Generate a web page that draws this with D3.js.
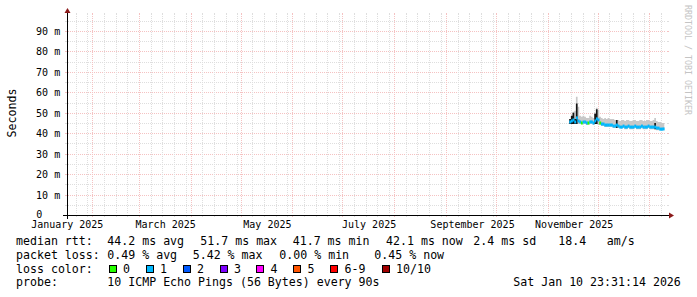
<!DOCTYPE html>
<html>
<head>
<meta charset="utf-8">
<script src="https://cdn.jsdelivr.net/npm/d3@7"></script>
<style>
  html, body { margin: 0; padding: 0; background: #ffffff; }
  svg { display: block; }
  text { font-family: "DejaVu Sans Mono", monospace; fill: #000; }
</style>
</head>
<body>
<div id="chart"></div>
<script>
// ---- data ----
const dates = [
  "2025-11-14", "2025-11-15", "2025-11-16", "2025-11-17", "2025-11-18", "2025-11-19",
  "2025-11-20", "2025-11-21", "2025-11-22", "2025-11-23", "2025-11-24", "2025-11-25",
  "2025-11-26", "2025-11-27", "2025-11-28", "2025-11-29", "2025-11-30", "2025-12-01",
  "2025-12-02", "2025-12-03", "2025-12-04", "2025-12-05", "2025-12-06", "2025-12-07",
  "2025-12-08", "2025-12-09", "2025-12-10", "2025-12-11", "2025-12-12", "2025-12-13",
  "2025-12-14", "2025-12-15", "2025-12-16", "2025-12-17", "2025-12-18", "2025-12-19",
  "2025-12-20", "2025-12-21", "2025-12-22", "2025-12-23", "2025-12-24", "2025-12-25",
  "2025-12-26", "2025-12-27", "2025-12-28", "2025-12-29", "2025-12-30", "2025-12-31",
  "2026-01-01", "2026-01-02", "2026-01-03", "2026-01-04", "2026-01-05", "2026-01-06",
  "2026-01-07", "2026-01-08", "2026-01-09"
];
// median rtt (ms)
const median = [
  45.5, 46.0, 46.5, 45.5, 47.5, 46.0, 45.5, 45.0, 45.5, 45.5, 45.0, 45.0,
  45.5, 45.5, 45.0, 46.0, 47.0, 46.5, 45.0, 44.5, 44.5, 44.0, 44.0, 44.0,
  44.0, 44.0, 43.5, 43.5, 44.0, 43.5, 43.0, 43.0, 43.5, 43.0, 43.0, 43.5,
  43.0, 43.0, 43.0, 43.5, 43.0, 43.0, 43.0, 43.5, 43.0, 43.0, 43.0, 43.5,
  43.0, 43.0, 43.0, 43.0, 42.5, 42.5, 42.0, 42.0, 42.1
];
// light smoke: lowest / highest ping (ms)
const smokeLo = [
  44.5, 44.5, 44.5, 44.5, 44.5, 44.5, 44.5, 44.5, 44.5, 44.5, 44.0, 44.0,
  44.5, 44.5, 44.0, 44.5, 44.5, 44.0, 44.0, 43.5, 43.5, 43.0, 43.0, 43.0,
  43.0, 43.0, 42.5, 42.5, 42.5, 42.5, 42.5, 42.5, 42.5, 42.0, 42.0, 42.5,
  42.0, 42.0, 42.0, 42.5, 42.0, 42.0, 42.0, 42.5, 42.0, 42.0, 42.0, 42.5,
  42.0, 42.0, 42.0, 42.0, 41.5, 41.5, 41.5, 41.5, 41.5
];
const smokeHi = [
  47.0, 48.5, 50.5, 51.0, 57.8, 53.0, 48.5, 48.0, 48.5, 48.0, 47.5, 47.5,
  48.5, 48.0, 47.5, 50.0, 52.5, 51.5, 48.0, 47.5, 47.0, 47.5, 47.0, 47.5,
  47.0, 47.0, 47.0, 46.5, 46.5, 46.5, 46.0, 46.5, 46.5, 46.0, 46.5, 46.5,
  46.0, 46.0, 46.5, 46.5, 46.0, 46.0, 46.5, 46.5, 46.0, 46.0, 46.5, 46.5,
  46.0, 46.0, 46.5, 47.5, 46.0, 45.5, 45.5, 45.0, 45.0
];
// dense (dark) smoke, null where there is none
const denseLo = [
  44.5, 44.5, 44.5, 44.5, 44.5, 44.5, null, null, null, null, null, null,
  null, null, null, 44.5, 44.5, 44.0, null, null, null, null, null, null,
  null, null, null, null, 42.5, 42.5, null, null, null, null, null, null,
  null, null, null, null, null, null, null, null, null, null, null, null,
  null, null, null, 42.0, 41.5, null, null, null, null
];
const denseHi = [
  47.0, 48.5, 50.0, 47.0, 54.5, 50.0, null, null, null, null, null, null,
  null, null, null, 49.5, 51.7, 50.5, null, null, null, null, null, null,
  null, null, null, null, 46.5, 45.0, null, null, null, null, null, null,
  null, null, null, null, null, null, null, null, null, null, null, null,
  null, null, null, 45.0, 44.5, null, null, null, null
];
// lost pings out of 10
const loss = [
  1, 1, 1, 1, 1, 1, 1, 0, 1, 1, 1, 0, 1, 1, 1, 1, 1, 1, 0, 1, 1, 1, 1, 1,
  1, 1, 1, 1, 1, 1, 1, 1, 1, 1, 1, 1, 1, 1, 1, 1, 1, 1, 1, 1, 1, 1, 1, 1,
  1, 1, 1, 1, 1, 1, 1, 1, 1
];

const yTicks = [0, 10, 20, 30, 40, 50, 60, 70, 80, 90];
const monthLabels = ["January 2025", "March 2025", "May 2025", "July 2025", "September 2025", "November 2025"];
const monthLabelDates = ["2025-01-01", "2025-03-01", "2025-05-01", "2025-07-01", "2025-09-01", "2025-11-01"];

const lossNames = ["0", "1", "2", "3", "4", "5", "6-9", "10/10"];
const lossColors = ["#26ff00", "#00b8ff", "#0059ff", "#7e00ff", "#ff00ff", "#ff5500", "#ff0000", "#a10000"];

const rttLegend = ["median rtt:", "44.2 ms avg", "51.7 ms max", "41.7 ms min", "42.1 ms now", "2.4 ms sd", "18.4", "am/s"];
const lossLegend = ["packet loss:", "0.49 % avg", "5.42 % max", "0.00 % min", "0.45 % now"];
const probeLegend = ["probe:", "10 ICMP Echo Pings (56 Bytes) every 90s", "Sat Jan 10 23:31:14 2026"];

// ---- layout ----
const W = 697, H = 297;
const X0 = 67, X1 = 667, Y0 = 215, Y1 = 15;
const rttX = [16, 107.3, 200.3, 292.7, 386, 473.3, 558.3, 606.7];
const lossX = [16, 107.3, 192.7, 279.3, 374.3];
const probeX = [16, 107.3, 513.3];
const boxX = [108.5, 145.5, 182.5, 219.5, 256, 293, 330, 381.5];
const legendY = [245, 258.8, 272.6, 286.4];

const gridCol = "#dedede", mgridCol = "#f5c2c2", arrowCol = "#8b1a1a";

const parse = d3.utcParse("%Y-%m-%d");
const x = d3.scaleUtc()
  .domain([Date.UTC(2025, 0, 16, 20), Date.UTC(2026, 0, 11, 15)])
  .range([X0, X1]);
const y = d3.scaleLinear().domain([0, 97.83]).range([Y0, Y1]);

const svg = d3.select("#chart").append("svg")
  .attr("width", W).attr("height", H)
  .attr("shape-rendering", "crispEdges");

svg.append("rect").attr("width", W).attr("height", H).attr("fill", "#fff");

const px = (v) => Math.round(v) + 0.5;

// horizontal grid: minor every 5 m, major every 10 m
const minorY = d3.range(5, 97, 10);
minorY.forEach((v) => {
  const yy = px(y(v));
  svg.append("line").attr("x1", X0 - 2).attr("x2", X0).attr("y1", yy).attr("y2", yy).attr("stroke", gridCol);
  svg.append("line").attr("x1", X1).attr("x2", X1 + 2).attr("y1", yy).attr("y2", yy).attr("stroke", gridCol);
  svg.append("line").attr("x1", X0 + 1).attr("x2", X1 - 1).attr("y1", yy).attr("y2", yy)
    .attr("stroke", gridCol).attr("stroke-dasharray", "1,1");
});
yTicks.filter((v) => v > 0).forEach((v) => {
  const yy = px(y(v));
  svg.append("line").attr("x1", X0 - 2).attr("x2", X0).attr("y1", yy).attr("y2", yy).attr("stroke", mgridCol);
  svg.append("line").attr("x1", X1).attr("x2", X1 + 2).attr("y1", yy).attr("y2", yy).attr("stroke", mgridCol);
  svg.append("line").attr("x1", X0 + 1).attr("x2", X1 - 1).attr("y1", yy).attr("y2", yy)
    .attr("stroke", mgridCol).attr("stroke-dasharray", "1,1");
});

// vertical grid: minor weekly, major on month starts
const weeks = d3.utcDay.every(7).range(Date.UTC(2025, 0, 16), Date.UTC(2026, 0, 12))
  .filter((d) => x(d) > X0 && x(d) < X1);
weeks.forEach((d) => {
  const xx = px(x(d));
  svg.append("line").attr("x1", xx).attr("x2", xx).attr("y1", Y1 - 2).attr("y2", Y1).attr("stroke", gridCol);
  svg.append("line").attr("x1", xx).attr("x2", xx).attr("y1", Y0).attr("y2", Y0 + 2).attr("stroke", gridCol);
  svg.append("line").attr("x1", xx).attr("x2", xx).attr("y1", Y1 + 1).attr("y2", Y0 - 1)
    .attr("stroke", gridCol).attr("stroke-dasharray", "1,1");
});
const months = d3.utcMonth.range(Date.UTC(2025, 0, 17), Date.UTC(2026, 0, 12))
  .filter((d) => x(d) > X0 && x(d) < X1);
months.forEach((d) => {
  const xx = px(x(d));
  svg.append("line").attr("x1", xx).attr("x2", xx).attr("y1", Y1 - 2).attr("y2", Y1).attr("stroke", mgridCol);
  svg.append("line").attr("x1", xx).attr("x2", xx).attr("y1", Y0).attr("y2", Y0 + 2).attr("stroke", mgridCol);
  svg.append("line").attr("x1", xx).attr("x2", xx).attr("y1", Y1 + 1).attr("y2", Y0 - 1)
    .attr("stroke", mgridCol).attr("stroke-dasharray", "1,1");
});

// ---- smoke ----
const rows = dates.map((d, i) => ({
  t: parse(d),
  med: median[i], lo: smokeLo[i], hi: smokeHi[i],
  dlo: denseLo[i], dhi: denseHi[i], loss: loss[i]
}));
const stepEnd = d3.utcDay.offset(rows[rows.length - 1].t, 1);
const ext = rows.concat([{ ...rows[rows.length - 1], t: stepEnd }]);

const plot = svg.append("g").attr("shape-rendering", "auto");

plot.append("path")
  .datum(ext)
  .attr("fill", "#c8c8c8")
  .attr("d", d3.area().curve(d3.curveStepAfter)
    .x((d) => x(d.t)).y0((d) => y(d.lo)).y1((d) => y(d.hi)));

plot.append("path")
  .datum(ext)
  .attr("fill", "#141414")
  .attr("d", d3.area().curve(d3.curveStepAfter)
    .defined((d) => d.dlo != null)
    .x((d) => x(d.t)).y0((d) => y(d.dlo)).y1((d) => y(d.dhi)));

// median coloured by loss
plot.selectAll("rect.med")
  .data(rows)
  .join("rect")
  .attr("class", "med")
  .attr("x", (d) => x(d.t))
  .attr("width", (d) => x(d3.utcDay.offset(d.t, 1)) - x(d.t) + 0.3)
  .attr("y", (d) => y(d.med) - 1.5)
  .attr("height", 3)
  .attr("fill", (d) => lossColors[d.loss]);

// ---- axes ----
svg.append("line").attr("x1", X0 - 4).attr("x2", X1 + 4).attr("y1", Y0 + 0.5).attr("y2", Y0 + 0.5).attr("stroke", "#000");
svg.append("line").attr("x1", X0 + 0.5).attr("x2", X0 + 0.5).attr("y1", Y0 + 4).attr("y2", Y1 - 4).attr("stroke", "#000");
svg.append("path").attr("shape-rendering", "auto").attr("fill", arrowCol)
  .attr("d", `M${X1 + 2},${Y0 - 2.5}L${X1 + 2},${Y0 + 3.5}L${X1 + 7},${Y0 + 0.5}Z`);
svg.append("path").attr("shape-rendering", "auto").attr("fill", arrowCol)
  .attr("d", `M${X0 - 2.5},${Y1 - 2}L${X0 + 3.5},${Y1 - 2}L${X0 + 0.5},${Y1 - 7}Z`);

// y labels
svg.selectAll("text.ytick")
  .data(yTicks)
  .join("text")
  .attr("class", "ytick")
  .attr("x", (d) => (d === 0 ? 42.2 : 60.2))
  .attr("y", (d) => (d === 0 ? 218.3 : Math.round(y(d)) + 4))
  .attr("text-anchor", "end")
  .attr("font-size", "10px")
  .text((d) => (d === 0 ? "0" : d + " m"));

// x labels (centred half a month past the month start)
svg.selectAll("text.xtick")
  .data(monthLabels)
  .join("text")
  .attr("class", "xtick")
  .attr("x", (d, i) => x(d3.utcDay.offset(parse(monthLabelDates[i]), 16)))
  .attr("y", 228.3)
  .attr("text-anchor", "middle")
  .attr("font-size", "10px")
  .text((d) => d);

svg.append("text")
  .attr("transform", "translate(15.5,113) rotate(-90)")
  .attr("text-anchor", "middle")
  .attr("font-size", "11.6px")
  .text("Seconds");

svg.append("text")
  .attr("transform", "translate(685,5) rotate(90)")
  .attr("font-size", "8.3px")
  .style("fill", "#c4c4c4")
  .text("RRDTOOL / TOBI OETIKER");

// ---- legend ----
const legend = svg.append("g").attr("font-size", "11.6px");
rttLegend.forEach((s, i) => legend.append("text").attr("x", rttX[i]).attr("y", legendY[0]).text(s));
lossLegend.forEach((s, i) => legend.append("text").attr("x", lossX[i]).attr("y", legendY[1]).text(s));
legend.append("text").attr("x", 16).attr("y", legendY[2]).text("loss color:");
lossNames.forEach((s, i) => {
  legend.append("rect")
    .attr("x", boxX[i] + 0.5).attr("y", 265.5).attr("width", 7).attr("height", 7)
    .attr("fill", lossColors[i]).attr("stroke", "#000");
  legend.append("text").attr("x", boxX[i] + 14.5).attr("y", legendY[2]).text(s);
});
probeLegend.forEach((s, i) => legend.append("text").attr("x", probeX[i]).attr("y", legendY[3]).text(s));
</script>
</body>
</html>
